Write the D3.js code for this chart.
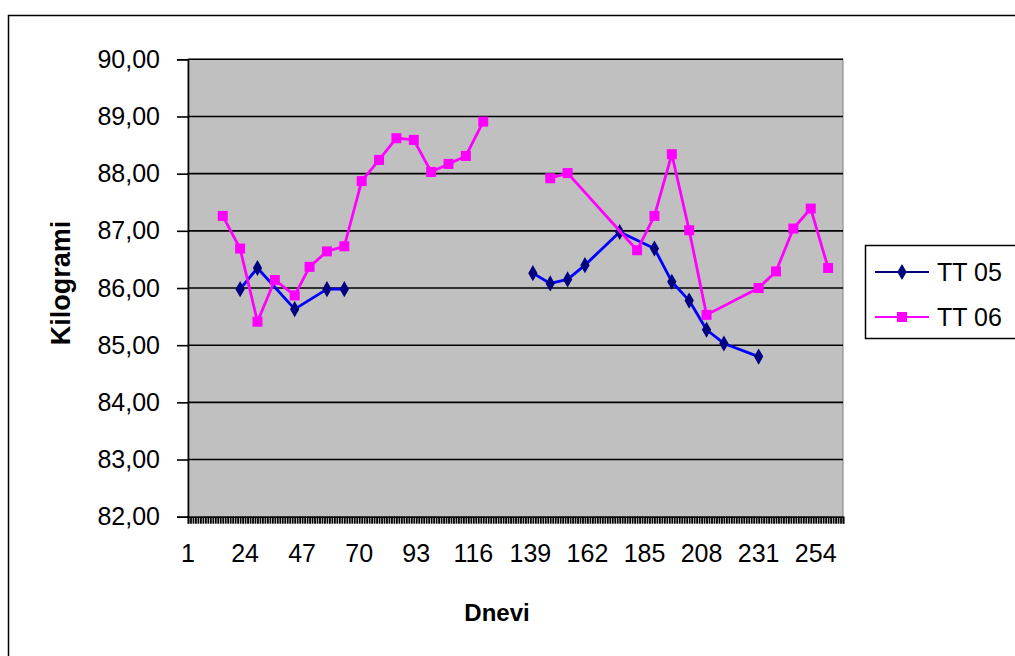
<!DOCTYPE html>
<html>
<head>
<meta charset="utf-8">
<script src="https://cdn.jsdelivr.net/npm/d3@7"></script>
<style>
  html, body { margin: 0; padding: 0; background: #fff; }
  svg { display: block; }
  text { font-family: "Liberation Sans", Arial, sans-serif; fill: #000; }
</style>
</head>
<body>
<svg id="chart" width="1015" height="656"></svg>
<script>
// Weekly body-weight measurements (kg) by day number; null = week not recorded
const tt05Days = [22, 29, 44, 57, 64, 71, 140, 147, 154, 161, 175, 189, 196, 203, 210, 217, 231];
const tt05Kg   = [85.98, 86.35, 85.63, 85.98, 85.98, null, 86.26, 86.08, 86.15, 86.40, 86.98, 86.69, 86.11, 85.78, 85.27, 85.03, 84.80];

const tt06Days = [15, 22, 29, 36, 44, 50, 57, 64, 71, 78, 85, 92, 99, 106, 113, 120, 127,
                  147, 154, 182, 189, 196, 203, 210, 231, 238, 245, 252, 259];
const tt06Kg   = [87.26, 86.69, 85.41, 86.14, 85.87, 86.37, 86.64, 86.73, 87.87, 88.24, 88.62, 88.59, 88.03, 88.17, 88.31, 88.91, null,
                  87.92, 88.01, 86.66, 87.26, 88.34, 87.01, 85.53, 86.00, 86.29, 87.04, 87.39, 86.35];

const seriesNames = ["TT 05", "TT 06"];
const dayCount = 265;
const xTickLabels = [1, 24, 47, 70, 93, 116, 139, 162, 185, 208, 231, 254];
const yTickValues = [82, 83, 84, 85, 86, 87, 88, 89, 90];

const svg = d3.select("#chart");

// chart frame
svg.append("rect")
  .attr("x", 8.5).attr("y", 15.5)
  .attr("width", 1020).attr("height", 700)
  .attr("fill", "#fff").attr("stroke", "#000").attr("stroke-width", 1.5);

const plot = { left: 188, right: 843, top: 59.3, bottom: 516.7 };

const x = d3.scaleLinear().domain([1, dayCount]).range([plot.left, plot.right]);
const y = d3.scaleLinear().domain([82, 90]).range([plot.bottom, plot.top]);

// plot area
svg.append("rect")
  .attr("x", plot.left).attr("y", plot.top)
  .attr("width", plot.right - plot.left).attr("height", plot.bottom - plot.top)
  .attr("fill", "#c0c0c0").attr("stroke", "#808080").attr("stroke-width", 1);

// horizontal gridlines
svg.append("g").selectAll("line")
  .data(yTickValues.filter(v => v !== 82))
  .join("line")
  .attr("x1", plot.left).attr("x2", plot.right)
  .attr("y1", d => y(d)).attr("y2", d => y(d))
  .attr("stroke", "#000").attr("stroke-width", 1.6);

// y axis
const yAxis = d3.axisLeft(y)
  .tickValues(yTickValues)
  .tickSize(11)
  .tickPadding(17)
  .tickFormat(d => d3.format(".2f")(d).replace(".", ","));
const gy = svg.append("g").attr("transform", `translate(${plot.left},0)`).call(yAxis);
gy.select(".domain").attr("stroke", "#000").attr("stroke-width", 1.6);
gy.selectAll(".tick line").attr("stroke", "#000").attr("stroke-width", 1.6);
gy.selectAll(".tick text")
  .style("font-family", "'Liberation Sans', Arial, sans-serif")
  .style("font-size", "25px").attr("fill", "#000");

// x axis: a tick for every day, labels every 23 days
const allDays = d3.range(1, dayCount + 1);
const xAxis = d3.axisBottom(x)
  .tickValues(allDays)
  .tickSize(7)
  .tickPadding(0)
  .tickFormat(() => "");
const gx = svg.append("g").attr("transform", `translate(0,${plot.bottom})`).call(xAxis);
gx.select(".domain").attr("stroke", "#000").attr("stroke-width", 1.6);
gx.selectAll(".tick line").attr("stroke", "#000").attr("stroke-width", 1.8);

svg.append("g").selectAll("text")
  .data(xTickLabels)
  .join("text")
  .attr("x", d => x(d))
  .attr("y", 562)
  .attr("text-anchor", "middle")
  .style("font-size", "25px")
  .text(d => d);

// axis titles
svg.append("text")
  .attr("x", 497).attr("y", 621)
  .attr("text-anchor", "middle")
  .style("font-size", "24px").style("font-weight", "bold")
  .text("Dnevi");

svg.append("text")
  .attr("transform", "translate(70,283) rotate(-90)")
  .attr("text-anchor", "middle")
  .style("font-size", "27px").style("font-weight", "bold")
  .text("Kilogrami");

// series
const series = [
  { name: seriesNames[0], days: tt05Days, kg: tt05Kg, line: "#0000ff", marker: "#000080", shape: d3.symbolDiamond },
  { name: seriesNames[1], days: tt06Days, kg: tt06Kg, line: "#ff00ff", marker: "#ff00ff", shape: d3.symbolSquare }
];

const lineGen = d3.line()
  .defined(d => d.v !== null)
  .x(d => x(d.day))
  .y(d => y(d.v));

series.forEach(s => {
  const pts = s.days.map((day, i) => ({ day, v: s.kg[i] }));
  const g = svg.append("g");
  g.append("path")
    .datum(pts)
    .attr("d", lineGen)
    .attr("fill", "none")
    .attr("stroke", s.line)
    .attr("stroke-width", 2.8)
    .attr("stroke-linejoin", "round");
  const sym = d3.symbol().type(s.shape).size(s.shape === d3.symbolSquare ? 100 : 75);
  g.selectAll("path.m")
    .data(pts.filter(p => p.v !== null))
    .join("path")
    .attr("class", "m")
    .attr("transform", p => `translate(${x(p.day)},${y(p.v)})`)
    .attr("d", sym)
    .attr("fill", s.marker);
});

// legend
const legend = svg.append("g");
legend.append("rect")
  .attr("x", 865.5).attr("y", 245.5)
  .attr("width", 200).attr("height", 93)
  .attr("fill", "#fff").attr("stroke", "#000").attr("stroke-width", 1.5);

const legendLine = ["#000080", "#ff00ff"];
series.forEach((s, i) => {
  const ly = 272 + i * 45;
  legend.append("line")
    .attr("x1", 875).attr("x2", 929)
    .attr("y1", ly).attr("y2", ly)
    .attr("stroke", legendLine[i]).attr("stroke-width", 2);
  legend.append("path")
    .attr("transform", `translate(902,${ly})`)
    .attr("d", d3.symbol().type(s.shape).size(s.shape === d3.symbolSquare ? 100 : 75))
    .attr("fill", s.marker);
  legend.append("text")
    .attr("x", 937).attr("y", ly)
    .attr("dy", "0.36em")
    .style("font-size", "25px")
    .text(s.name);
});
</script>
</body>
</html>
